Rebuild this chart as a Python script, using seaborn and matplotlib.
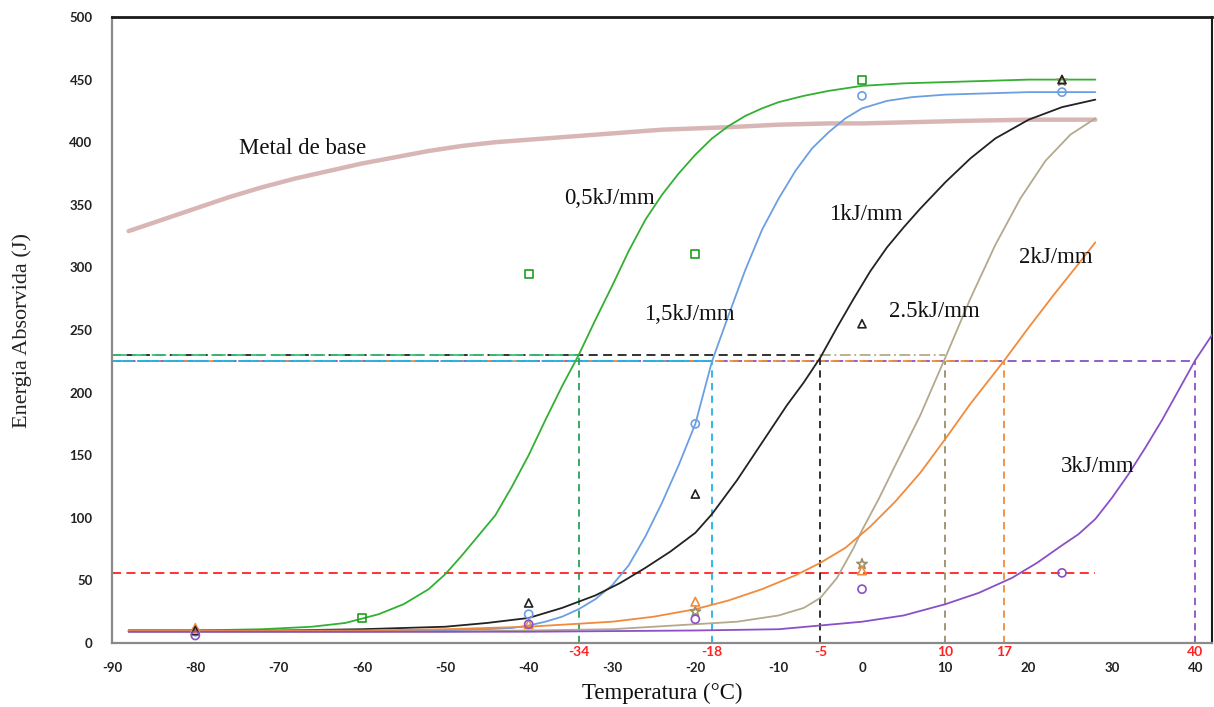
import numpy as np
import pandas as pd
import matplotlib
matplotlib.use("Agg")
import matplotlib.pyplot as plt
import seaborn as sns
from matplotlib.ticker import MultipleLocator
from matplotlib.transforms import blended_transform_factory

# ---------------- data ----------------
base_x = [-88, -84, -80, -76, -72, -68, -64, -60, -56, -52, -48, -44, -40, -36, -32, -28,
          -24, -20, -16, -10, -4, 0, 6, 12, 20, 28]
base_y = [329, 338, 347, 356, 364, 371, 377, 383, 388, 393, 397, 400, 402, 404, 406, 408,
          410, 411, 412, 414, 415, 415, 416, 417, 418, 418]

g05_x = [-88, -80, -72, -66, -62, -58, -55, -52, -50, -48, -46, -44, -42, -40, -38, -36, -34,
         -32, -30, -28, -26, -24, -22, -20, -18, -16, -14, -12, -10, -7, -4, 0, 5, 10, 15, 20, 28]
g05_y = [10, 10, 11, 13, 16, 23, 31, 43, 55, 70, 86, 102, 125, 150, 178, 205, 230,
         258, 285, 313, 338, 358, 375, 390, 403, 413, 421, 427, 432, 437, 441, 445, 447, 448, 449, 450, 450]

b15_x = [-88, -60, -50, -45, -42, -40, -38, -36, -34, -32, -30, -28, -26, -24, -22, -20, -18,
         -16, -14, -12, -10, -8, -6, -4, -2, 0, 3, 6, 10, 15, 20, 28]
b15_y = [9, 9, 10, 11, 12, 14, 17, 21, 27, 35, 46, 62, 85, 112, 142, 175, 225,
         262, 298, 330, 355, 377, 395, 408, 419, 427, 433, 436, 438, 439, 440, 440]

k1_x = [-88, -70, -60, -50, -45, -40, -36, -32, -29, -26, -23, -20, -18, -15, -12, -9,
        -7, -5, -3, -1, 1, 3, 5, 7, 10, 13, 16, 20, 24, 28]
k1_y = [10, 10, 11, 13, 16, 20, 28, 38, 48, 60, 73, 88, 103, 130, 160, 190,
        208, 228, 252, 275, 297, 316, 332, 347, 368, 387, 403, 418, 428, 434]

t25_x = [-88, -50, -40, -30, -25, -20, -15, -10, -7, -5, -3, -1, 0, 2, 4, 7, 10, 13, 16,
         19, 22, 25, 28]
t25_y = [9, 9, 10, 11, 13, 15, 17, 22, 28, 36, 52, 76, 90, 115, 142, 182, 228, 275, 318,
         355, 385, 406, 419]

o2_x = [-88, -60, -50, -40, -30, -25, -20, -16, -12, -8, -5, -2, 1, 4, 7, 10, 13, 17,
        20, 23, 26, 28]
o2_y = [10, 10, 11, 13, 17, 21, 27, 34, 43, 54, 64, 76, 93, 113, 136, 163, 191, 225,
        252, 278, 303, 320]

p3_x = [-88, -40, -20, -10, -5, 0, 5, 10, 14, 18, 21, 24, 26, 28, 30, 32, 34, 36, 38, 40, 42]
p3_y = [9, 9, 10, 11, 14, 17, 22, 31, 40, 52, 64, 78, 87, 99, 116, 135, 156, 178, 202, 226, 246]

# measured points (open markers)
g05_mx = [-60, -40, -20, 0]
g05_my = [20, 295, 311, 450]
b15_mx = [-80, -40, -20, 0, 24]
b15_my = [9, 23, 175, 437, 440]
k1_mx = [-80, -40, -20, 0, 24]
k1_my = [10, 32, 119, 255, 450]
o2_mx = [-80, -40, -20, 0]
o2_my = [12, 15, 33, 58]
t25_mx = [-20, 0, 24]
t25_my = [25, 63, 449]
p3_mx = [-80, -40, -20, 0, 24]
p3_my = [6, 15, 19, 43, 56]

# reference levels and transition temperatures
level_upper = 230
level_lower = 225
level_min = 56
temps_upper = [-34, -5, 10]
temps_lower = [-18, 17, 40]
red_labels = [-34, -18, -5, 10, 17, 40]

series_labels = ["Metal de base", "0,5kJ/mm", "1kJ/mm", "2kJ/mm", "1,5kJ/mm", "2.5kJ/mm", "3kJ/mm"]

# ---------------- styling ----------------
sns.set_style("white")
plt.rcParams["font.family"] = ["Lato", "DejaVu Sans"]
plt.rcParams["axes.unicode_minus"] = False

C_GREEN = "#33b033"
C_BLUE = "#6c9fe2"
C_BLACK = "#222222"
C_TAN = "#b3a98c"
C_ORANGE = "#f28a3c"
C_PURPLE = "#8a50c6"
C_PINK = "#d9b6b6"
C_RED = "#ff2222"
C_CYAN = "#1fb3e8"

W, H = 1214, 707
fig = plt.figure(figsize=(W / 100, H / 100), dpi=100)
ax = fig.add_axes([112 / W, 1 - 643 / H, (1212 - 112) / W, (643 - 17) / H])

# ---------------- dashed guide lines ----------------
dash = (0, (5, 3))
ax.hlines(level_min, -90, 28, colors=C_RED, lw=1.3, linestyles=dash, zorder=1)
# upper level (230)
ax.hlines(level_upper, -90, temps_upper[1], colors=C_BLACK, lw=1.3, linestyles=dash, zorder=1)
ax.hlines(level_upper, -90, temps_upper[0], colors="#3cc07a", lw=1.3, linestyles=(0, (8, 3)), zorder=1)
ax.hlines(level_upper, temps_upper[1], temps_upper[2], colors=C_TAN, lw=1.3,
          linestyles=(0, (6, 2, 1, 2)), zorder=1)
# lower level (225)
ax.hlines(level_lower, -90, temps_lower[2], colors=C_PURPLE, lw=1.3, linestyles=dash, zorder=1)
ax.hlines(level_lower, -90, temps_lower[1], colors=C_ORANGE, lw=1.3, linestyles=(2, (5, 3)), zorder=1)
ax.hlines(level_lower, -90, temps_lower[0], colors=C_CYAN, lw=1.3, linestyles=(0, (12, 2)), zorder=1)
# verticals
ax.vlines(temps_upper[0], 0, level_upper, colors="#2ca05a", lw=1.3, linestyles=(0, (4, 3)), zorder=1)
ax.vlines(temps_upper[1], 0, level_upper, colors=C_BLACK, lw=1.3, linestyles=(0, (4, 3)), zorder=1)
ax.vlines(temps_upper[2], 0, level_lower, colors="#9a8f6a", lw=1.3, linestyles=(0, (4, 3)), zorder=1)
ax.vlines(temps_lower[0], 0, level_lower, colors=C_CYAN, lw=1.3, linestyles=(0, (4, 3)), zorder=1)
ax.vlines(temps_lower[1], 0, level_lower, colors=C_ORANGE, lw=1.3, linestyles=(0, (4, 3)), zorder=1)
ax.vlines(temps_lower[2], 0, level_lower, colors=C_PURPLE, lw=1.3, linestyles=(0, (4, 3)), zorder=1)

# ---------------- curves ----------------
sns.lineplot(x=base_x, y=base_y, ax=ax, color=C_PINK, lw=3.2, estimator=None, sort=False, zorder=2)
curves = [
    (g05_x, g05_y, C_GREEN),
    (b15_x, b15_y, C_BLUE),
    (k1_x, k1_y, C_BLACK),
    (t25_x, t25_y, C_TAN),
    (o2_x, o2_y, C_ORANGE),
    (p3_x, p3_y, C_PURPLE),
]
for xs, ys, c in curves:
    sns.lineplot(x=xs, y=ys, ax=ax, color=c, lw=1.3, estimator=None, sort=False, zorder=3)

# ---------------- markers ----------------
marks = [
    (g05_mx, g05_my, "#1e9e1e", "s", 32),
    (b15_mx, b15_my, C_BLUE, "o", 34),
    (t25_mx, t25_my, "#9a8f6a", "*", 60),
    (o2_mx, o2_my, C_ORANGE, "^", 38),
    (k1_mx, k1_my, C_BLACK, "^", 34),
    (p3_mx, p3_my, C_PURPLE, "o", 34),
]
for xs, ys, c, m, s in marks:
    sns.scatterplot(x=xs, y=ys, ax=ax, marker=m, s=s, facecolors="none", edgecolor=c,
                    linewidth=1.2, zorder=4)

# ---------------- text labels ----------------
serif = ["Liberation Serif", "DejaVu Serif"]
label_pos = [(-74.8, 395), (-35.8, 355), (-4.0, 342), (18.8, 308), (-26.2, 262), (3.2, 265), (23.9, 141)]
for txt, (x, y) in zip(series_labels, label_pos):
    ax.text(x, y, txt, fontsize=16.5, family=serif, color="#111111", ha="left", va="center", zorder=5)

ax.set_xlabel("Temperatura (°C)", fontsize=16.5, family=serif, color="#111111", labelpad=6)
ax.set_ylabel("Energia Absorvida (J)", fontsize=16, family=serif, color="#222222", labelpad=27)

# ---------------- axes ----------------
ax.set_xlim(-90, 42)
ax.set_ylim(0, 500)
ax.xaxis.set_major_locator(MultipleLocator(10))
ax.xaxis.set_minor_locator(MultipleLocator(1))
ax.yaxis.set_major_locator(MultipleLocator(50))
ax.yaxis.set_minor_locator(MultipleLocator(10))
ax.tick_params(axis="both", which="both", direction="in", color="#8a8a8a", labelcolor="#222222",
               labelsize=9.5)
ax.tick_params(axis="x", which="major", length=6, width=1, pad=14)
ax.tick_params(axis="x", which="minor", length=3.5, width=0.9)
ax.tick_params(axis="y", which="major", length=5, width=1, pad=14)
ax.tick_params(axis="y", which="minor", length=5, width=0.9)
for lab in ax.get_xticklabels() + ax.get_yticklabels():
    lab.set_fontweight("bold")

for side in ["left", "bottom"]:
    ax.spines[side].set_color("#8a8a8a")
    ax.spines[side].set_linewidth(1.6)
ax.spines["top"].set_color("#1a1a1a")
ax.spines["top"].set_linewidth(2.0)
ax.spines["right"].set_color("#1a1a1a")
ax.spines["right"].set_linewidth(1.5)
ax.grid(False)

trans = blended_transform_factory(ax.transData, ax.transAxes)
for t in red_labels:
    ax.text(t, -0.014, str(t), transform=trans, color=C_RED, fontsize=10, fontweight="bold",
            ha="center", va="center")

fig.savefig("out.png", dpi=100)
